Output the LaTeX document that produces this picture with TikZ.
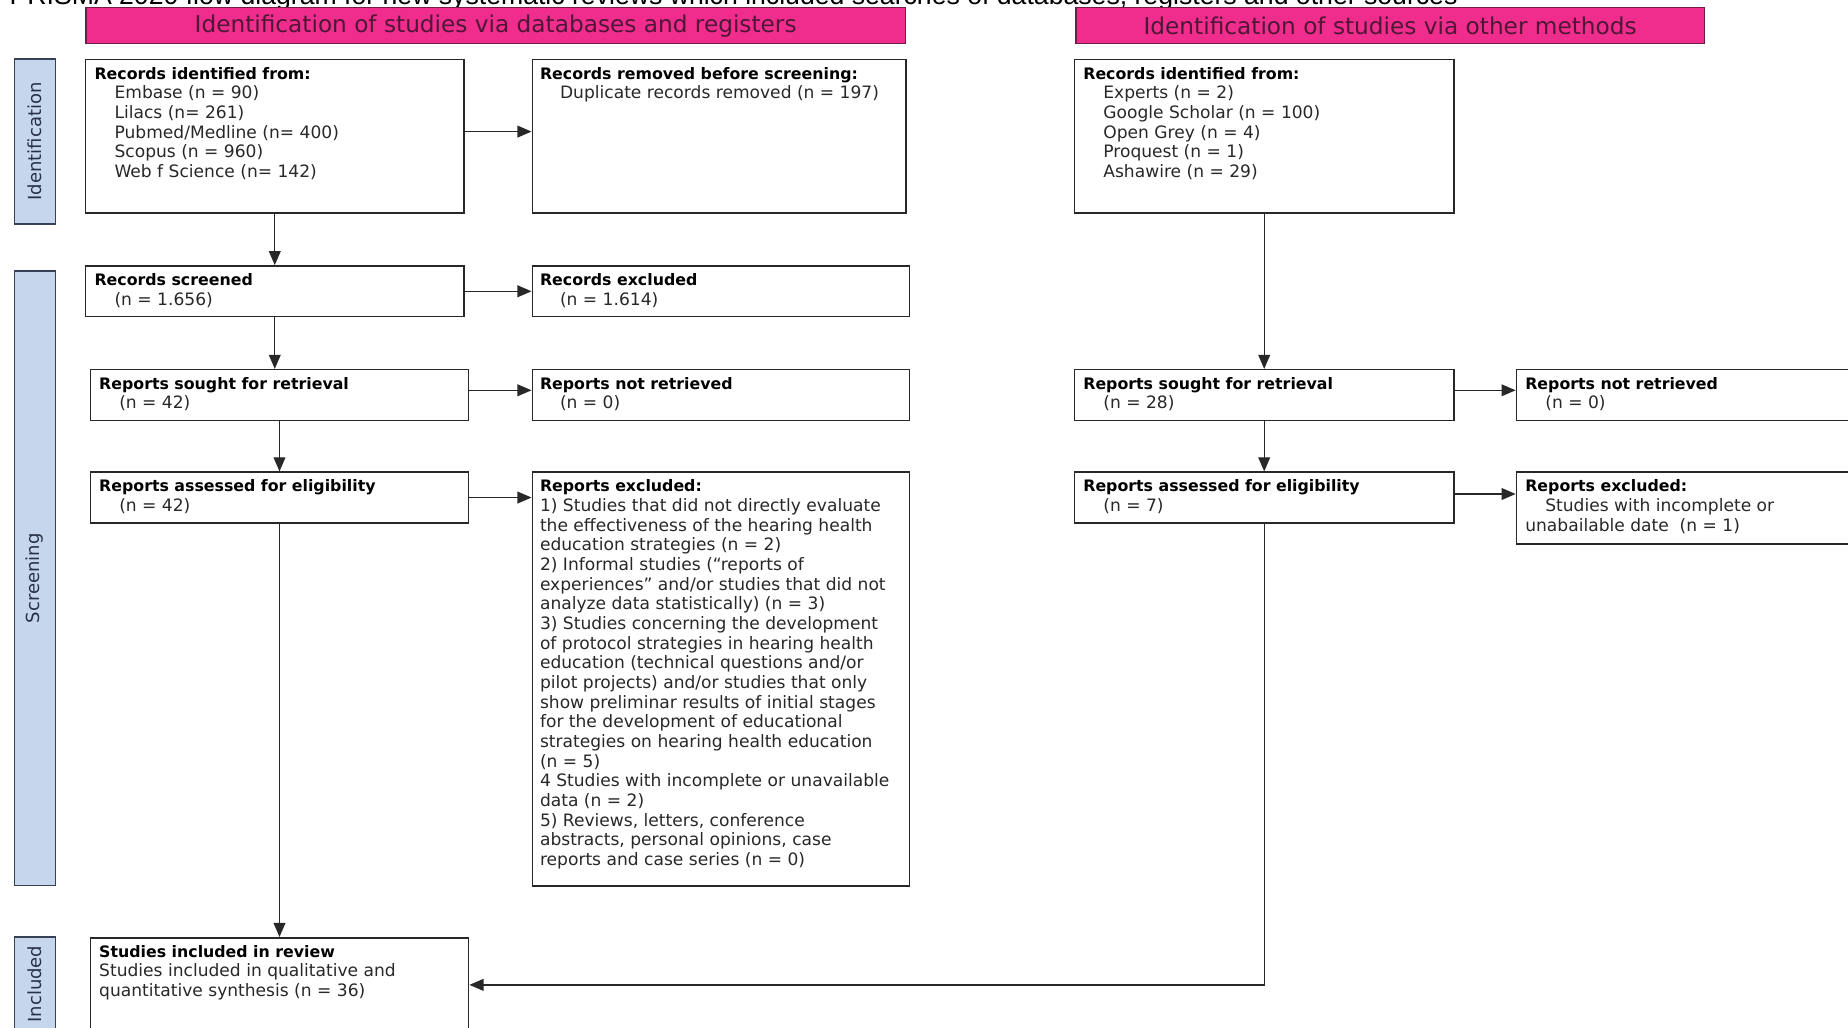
\documentclass[tikz,border=0pt]{standalone}
\usepackage{fontspec}
\setmainfont{DejaVu Sans}
\newfontfamily\capfont{Liberation Sans}
\usetikzlibrary{arrows.meta,calc}
\definecolor{pinkhead}{RGB}{240,45,140}
\definecolor{pinkedge}{RGB}{110,30,70}
\definecolor{headtext}{RGB}{80,22,55}
\definecolor{sidefill}{RGB}{198,214,237}
\definecolor{sideedge}{RGB}{55,65,85}
\definecolor{sidetext}{RGB}{40,50,70}
\definecolor{boxedge}{RGB}{40,40,40}
\definecolor{bodytext}{RGB}{40,40,40}
\tikzset{
  boxshape/.style={draw=boxedge, line width=1.3pt, rectangle, inner sep=0pt},
  headbox/.style={draw=pinkedge, fill=pinkhead, line width=1pt, rectangle, inner sep=0pt, text=headtext, font=\fontsize{19.7}{22}\selectfont},
  sidebox/.style={draw=sideedge, fill=sidefill, line width=1pt, rectangle, inner sep=0pt},
  sidetxt/.style={rotate=90, inner sep=0pt, text=sidetext, font=\fontsize{15.3}{18}\selectfont},
  boxtxt/.style={anchor=north west, inner sep=0pt, align=left, text=bodytext, font=\fontsize{14.5}{16.7}\selectfont},
  arr/.style={draw=boxedge, line width=1.2pt, -{Triangle[length=12pt,width=10pt]}},
  link/.style={draw=boxedge, line width=1.2pt}
}
\newcommand\ttl[1]{{\fontsize{13.4}{16.7}\selectfont\bfseries\color{black}#1}}
\newcommand\ind{\hspace*{17pt}}
\newcommand\flowbox[5]{\node[boxshape, anchor=north west, minimum width={#4-#2}, minimum height={#5-#3}] (#1) at (#2,#3) {};}
\newcommand\boxtext[3]{\node[boxtxt] (#1t) at ($(#1.north west)+(#2,6.8)$) {#3};}
\begin{document}
\begin{tikzpicture}[x=1pt,y=-1pt]
\useasboundingbox (0,0) rectangle (1568,872);
\clip (0,0) rectangle (1568,872);
\fill[white] (0,0) rectangle (1568,872);

% caption (cut off at the top)
\node[anchor=base west, inner sep=0pt, font=\capfont\fontsize{22.6}{26}\selectfont] (cap) at (8,3.5)
  {PRISMA 2020 flow diagram for new systematic reviews which included searches of databases, registers and other sources};

% headers
\node[headbox, minimum width=695, minimum height=30.5] (hl) at (420.5,21.75) {Identification of studies via databases and registers};
\node[headbox, minimum width=533, minimum height=30.5] (hr) at (1179.5,21.75) {Identification of studies via other methods};

% side labels
\node[sidebox, minimum width=35, minimum height=140] (sid) at (29.5,120) {};
\node[sidetxt] (sidt) at (sid.center) {Identification};
\node[sidebox, minimum width=35, minimum height=521] (sscr) at (29.5,490.5) {};
\node[sidetxt] (sscrt) at (sscr.center) {Screening};
\node[sidebox, minimum width=35, minimum height=80] (sinc) at (29.5,835) {};
\node[sidetxt] (sinct) at (sinc.center) {Included};

% boxes
\flowbox{b1}{72}{50}{393}{180}
\flowbox{b2}{451}{50}{768}{180}
\flowbox{b3}{72}{225}{393}{268}
\flowbox{b4}{451}{225}{771}{268}
\flowbox{b5}{76}{313}{397}{356}
\flowbox{b6}{451}{313}{771}{356}
\flowbox{b7}{76}{400}{397}{443}
\flowbox{b8}{451}{400}{771}{751}
\flowbox{b9}{76}{795}{397}{875}
\flowbox{r1}{911}{50}{1233}{180}
\flowbox{r2}{911}{313}{1233}{356}
\flowbox{r3}{1286}{313}{1620}{356}
\flowbox{r4}{911}{400}{1233}{443}
\flowbox{r5}{1286}{400}{1620}{461}

% texts
\boxtext{b1}{8}{\ttl{Records identified from:}\\
  \ind Embase (n = 90)\\
  \ind Lilacs (n= 261)\\
  \ind Pubmed/Medline (n= 400)\\
  \ind Scopus (n = 960)\\
  \ind Web f Science (n= 142)}
\boxtext{b2}{7}{\ttl{Records removed before screening:}\\
  \ind Duplicate records removed (n = 197)}
\boxtext{b3}{8}{\ttl{Records screened}\\ \ind (n = 1.656)}
\boxtext{b4}{7}{\ttl{Records excluded}\\ \ind (n = 1.614)}
\boxtext{b5}{8}{\ttl{Reports sought for retrieval}\\ \ind (n = 42)}
\boxtext{b6}{7}{\ttl{Reports not retrieved}\\ \ind (n = 0)}
\boxtext{b7}{8}{\ttl{Reports assessed for eligibility}\\ \ind (n = 42)}
\boxtext{b8}{7}{\ttl{Reports excluded:}\\
  1) Studies that did not directly evaluate\\
  the effectiveness of the hearing health\\
  education strategies (n = 2)\\
  2) Informal studies (“reports of\\
  experiences” and/or studies that did not\\
  analyze data statistically) (n = 3)\\
  3) Studies concerning the development\\
  of protocol strategies in hearing health\\
  education (technical questions and/or\\
  pilot projects) and/or studies that only\\
  show preliminar results of initial stages\\
  for the development of educational\\
  strategies on hearing health education\\
  (n = 5)\\
  4 Studies with incomplete or unavailable\\
  data (n = 2)\\
  5) Reviews, letters, conference\\
  abstracts, personal opinions, case\\
  reports and case series (n = 0)}
\boxtext{b9}{8}{\ttl{Studies included in review}\\
  Studies included in qualitative and\\
  quantitative synthesis (n = 36)}
\boxtext{r1}{8}{\ttl{Records identified from:}\\
  \ind Experts (n = 2)\\
  \ind Google Scholar (n = 100)\\
  \ind Open Grey (n = 4)\\
  \ind Proquest (n = 1)\\
  \ind Ashawire (n = 29)}
\boxtext{r2}{8}{\ttl{Reports sought for retrieval}\\ \ind (n = 28)}
\boxtext{r3}{8}{\ttl{Reports not retrieved}\\ \ind (n = 0)}
\boxtext{r4}{8}{\ttl{Reports assessed for eligibility}\\ \ind (n = 7)}
\boxtext{r5}{8}{\ttl{Reports excluded:}\\
  \ind Studies with incomplete or\\
  unabailable date~~(n = 1)}

% connectors
\path ([yshift=4pt]b1.east) coordinate (c12);
\draw[arr] (c12) -- (c12 -| b2.west);
\draw[arr] (b1.south) -- (b3.north);
\draw[arr] (b3.east) -- (b4.west);
\draw[arr] (b3.south) -- (b3.south |- b5.north);
\path ([yshift=4pt]b5.east) coordinate (c56);
\draw[arr] (c56) -- (c56 -| b6.west);
\draw[arr] (b5.south) -- (b7.north);
\draw[arr] (b7.east) -- (b7.east -| b8.west);
\draw[arr] (b7.south) -- (b9.north);
\draw[arr] (r1.south) -- (r2.north);
\path ([yshift=4pt]r2.east) coordinate (c23);
\draw[arr] (c23) -- (c23 -| r3.west);
\draw[arr] (r2.south) -- (r4.north);
\path ([yshift=3pt]r4.east) coordinate (c45);
\draw[arr] (c45) -- (c45 -| r5.west);
\draw[arr] (r4.south) |- (b9.east);
\end{tikzpicture}
\end{document}
